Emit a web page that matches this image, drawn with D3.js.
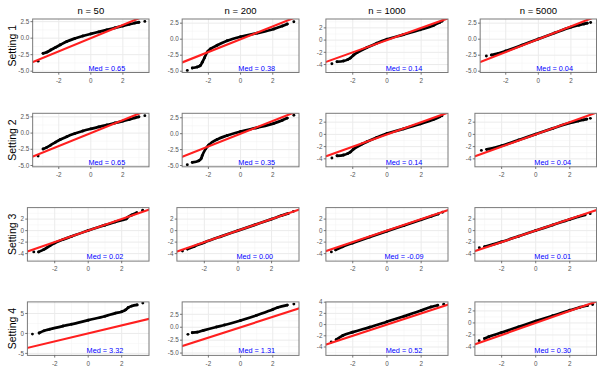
<!DOCTYPE html>
<html>
<head>
<meta charset="utf-8">
<script src="https://cdn.jsdelivr.net/npm/d3@7"></script>
<style>
  body { margin: 0; background: #fff; }
  svg { display: block; font-family: "Liberation Sans", Arial, sans-serif; }
</style>
</head>
<body>
<svg id="chart"></svg>
<script>
// column / row labels
const sizeLabels = ["n = 50", "n = 200", "n = 1000", "n = 5000"];
const settingLabels = ["Setting 1", "Setting 2", "Setting 3", "Setting 4"];

// median shown in each panel (row = setting, col = n)
const medians = [
  [0.65, 0.38, 0.14, 0.04],
  [0.65, 0.35, 0.14, 0.04],
  [0.02, 0.00, -0.09, 0.01],
  [3.32, 1.31, 0.52, 0.30]
];

// y axis ranges and ticks
const yRanges = [
  [[-5.2, 2.9], [-5.2, 3.15], [-5.3, 3.45], [-5.2, 3.15]],
  [[-5.2, 3.05], [-5.2, 3.2], [-5.3, 3.45], [-5.3, 3.45]],
  [[-5.3, 4.0], [-5.3, 4.0], [-5.3, 4.0], [-5.3, 4.0]],
  [[-5.5, 7.9], [-5.45, 4.9], [-5.5, 4.05], [-5.4, 3.5]]
];
const ticksA = [-5, -2.5, 0, 2.5];
const ticksB = [-4, -2, 0, 2];
const yTicks = [
  [ticksA, ticksA, ticksB, ticksA],
  [ticksA, ticksA, ticksB, ticksB],
  [ticksB, ticksB, ticksB, ticksB],
  [[-5, 0, 5], ticksA, [-4, -2, 0, 2, 4], ticksB]
];
const xTicks = [-2, 0, 2];
const xHalf = [3.63, 3.63, 3.57, 3.57];

// QQ points: theoretical quantile, sample quantile
// Setting 1
const s1n50 = [[-2.98,-2.3],[-2.75,-2.12],[-2.5,-1.8],[-2.2,-1.4],[-1.9,-1.0],[-1.5,-0.5],[-1.0,-0.05],[-0.5,0.33],[0,0.65],[0.5,0.95],[1.0,1.25],[1.5,1.55],[2.0,1.85],[2.4,2.1],[2.75,2.3],[3.0,2.4]];
const s1n50ends = [[-3.29,-3.48],[3.37,2.54]];
const s1n200 = [[-3.0,-4.5],[-2.69,-4.35],[-2.5,-4.1],[-2.38,-3.6],[-2.24,-2.9],[-2.07,-2.0],[-1.86,-1.5],[-1.45,-0.95],[-0.83,-0.25],[0,0.38],[1.04,0.95],[2.07,1.6],[2.6,2.05],[2.9,2.36]];
const s1n200ends = [[-3.31,-4.87],[3.31,2.72]];
const s1n1000 = [[-2.92,-3.54],[-2.54,-3.42],[-2.3,-3.2],[-2.15,-2.95],[-1.95,-2.45],[-1.75,-2.05],[-1.45,-1.6],[-1.17,-1.22],[-0.6,-0.5],[0,0.14],[0.97,0.9],[1.95,1.7],[2.72,2.4],[3.1,2.9]];
const s1n1000ends = [[-3.22,-3.87],[3.22,3.07]];
const s1n5000 = [[-2.88,-2.47],[-2.48,-2.26],[-2.0,-1.85],[-1.0,-0.92],[0,0.04],[1,0.98],[2,1.88],[2.5,2.2],[2.8,2.38],[3.0,2.5]];
const s1n5000ends = [[-3.19,-2.63],[3.21,2.61]];
// Setting 2
const s2n50 = [[-2.98,-2.45],[-2.75,-2.2],[-2.5,-1.85],[-2.2,-1.4],[-1.9,-1.0],[-1.5,-0.55],[-1.0,-0.08],[-0.5,0.32],[0,0.65],[0.5,0.95],[1.0,1.25],[1.5,1.55],[2.0,1.85],[2.4,2.1],[2.75,2.35],[3.0,2.5]];
const s2n50ends = [[-3.29,-3.53],[3.37,2.69]];
const s2n200 = [[-3.0,-4.5],[-2.59,-4.24],[-2.45,-3.9],[-2.38,-3.44],[-2.17,-2.38],[-1.97,-1.75],[-1.45,-0.9],[-0.83,-0.28],[0,0.35],[1.04,0.95],[2.07,1.62],[2.6,2.1],[2.9,2.45]];
const s2n200ends = [[-3.31,-4.87],[3.31,2.9]];
const s2n1000 = [[-2.92,-3.5],[-2.54,-3.38],[-2.3,-3.15],[-2.15,-2.9],[-1.95,-2.4],[-1.75,-2.02],[-1.45,-1.58],[-1.17,-1.2],[-0.6,-0.5],[0,0.14],[0.97,0.9],[1.95,1.72],[2.72,2.42],[3.1,2.9]];
const s2n1000ends = [[-3.22,-3.85],[3.22,3.05]];
const s2n5000 = [[-2.88,-2.45],[-2.48,-2.25],[-2.0,-1.85],[-1.0,-0.92],[0,0.04],[1,0.98],[2,1.88],[2.5,2.2],[2.8,2.38],[3.0,2.5]];
const s2n5000ends = [[-3.19,-2.62],[3.21,2.62]];
// Setting 3
const s3n50 = [[-2.96,-3.7],[-2.66,-3.3],[-2.27,-2.6],[-2.0,-2.15],[-1.5,-1.55],[-1.0,-1.02],[0,0.02],[1,0.95],[1.6,1.5],[2.1,1.9],[2.28,2.05],[2.35,2.3],[2.6,2.72],[2.9,3.1]];
const s3n50ends = [[-3.25,-3.7],[3.25,3.55]];
const s3n200 = [[-3.0,-3.2],[-2.6,-2.75],[-2,-2.05],[-1,-1.0],[0,0],[1,1.0],[2,2.0],[2.6,2.62],[3.0,3.0]];
const s3n200ends = [[-3.3,-3.55],[3.3,3.35]];
const s3n1000 = [[-3.0,-3.35],[-2.6,-2.8],[-2,-2.15],[-1,-1.1],[0,-0.09],[1,0.9],[2,1.9],[2.6,2.5],[3.0,2.9]];
const s3n1000ends = [[-3.25,-3.7],[3.25,3.2]];
const s3n5000 = [[-3.0,-2.8],[-2.5,-2.4],[-2,-1.95],[-1,-0.98],[0,0.01],[1,0.97],[2,1.95],[2.5,2.4],[2.9,2.74]];
const s3n5000ends = [[-3.31,-2.97],[3.2,2.95]];
// Setting 4
const s4n50 = [[-2.93,0.1],[-2.64,0.65],[-2.3,1.05],[-1.5,1.85],[-1,2.3],[0,3.32],[1,4.3],[1.63,5.1],[2.0,5.45],[2.23,5.9],[2.4,6.5],[2.6,6.85],[2.92,7.15]];
const s4n50ends = [[-3.33,-0.17],[3.26,7.6]];
const s4n200 = [[-3.0,-1.06],[-2.69,-0.95],[-2.3,-0.6],[-1.5,0.05],[-1,0.42],[0,1.31],[1,2.3],[2,3.45],[2.3,3.8],[2.9,4.28]];
const s4n200ends = [[-3.27,-1.38],[3.31,4.47]];
const s4n1000 = [[-2.97,-2.7],[-2.58,-1.95],[-2,-1.35],[-1,-0.45],[0,0.52],[1,1.5],[2,2.5],[2.57,3.15],[2.97,3.45]];
const s4n1000ends = [[-3.26,-3.1],[3.32,3.63]];
const s4n5000 = [[-3.0,-2.6],[-2.76,-2.3],[-2,-1.6],[-1,-0.65],[0,0.3],[1,1.2],[2,2.1],[2.6,2.6],[3.04,2.9]];
const s4n5000ends = [[-3.32,-2.95],[3.34,3.07]];

const curves = [
  [s1n50, s1n200, s1n1000, s1n5000],
  [s2n50, s2n200, s2n1000, s2n5000],
  [s3n50, s3n200, s3n1000, s3n5000],
  [s4n50, s4n200, s4n1000, s4n5000]
];
const ends = [
  [s1n50ends, s1n200ends, s1n1000ends, s1n5000ends],
  [s2n50ends, s2n200ends, s2n1000ends, s2n5000ends],
  [s3n50ends, s3n200ends, s3n1000ends, s3n5000ends],
  [s4n50ends, s4n200ends, s4n1000ends, s4n5000ends]
];

const width = 605, height = 376;
const svg = d3.select("#chart").attr("width", width).attr("height", height);

const cellLeft = [0.5, 150, 299, 448];
const panelRight = [149, 299, 448, 596.5];
const panelH = 53.5;
const rowTop = r => 19 + r * 94.3;

const tickFont = 6.3;
const fmtTick = (v, ticks) => ticks.some(t => !Number.isInteger(t)) ? v.toFixed(1) : String(v);

// measure tick label width so the panel starts after the labels
const measure = svg.append("text").style("font-size", tickFont + "px");
const textWidth = s => { measure.text(s); return measure.node().getComputedTextLength(); };

for (let r = 0; r < 4; r++) {
  for (let c = 0; c < 4; c++) {
    const ticks = yTicks[r][c];
    const labels = ticks.map(t => fmtTick(t, ticks));
    const maxW = d3.max(labels, textWidth);
    const left = cellLeft[c] + 21.3 + maxW;
    const right = panelRight[c];
    const top = rowTop(r), bottom = top + panelH;

    const x = d3.scaleLinear().domain([-xHalf[c], xHalf[c]]).range([left, right]);
    const y = d3.scaleLinear().domain(yRanges[r][c]).range([bottom, top]);

    const g = svg.append("g");
    const clipId = `clip-${r}-${c}`;
    g.append("clipPath").attr("id", clipId)
      .append("rect").attr("x", left).attr("y", top)
      .attr("width", right - left).attr("height", bottom - top);

    // minor grid
    const xMinor = [-3, -1, 1, 3];
    const step = ticks[1] - ticks[0];
    const yMinor = [];
    for (let v = ticks[0] - step / 2; v <= yRanges[r][c][1]; v += step) {
      if (v >= yRanges[r][c][0]) yMinor.push(v);
    }
    g.selectAll(".xminor").data(xMinor).enter().append("line")
      .attr("x1", d => x(d)).attr("x2", d => x(d)).attr("y1", top).attr("y2", bottom)
      .attr("stroke", "#f3f3f3").attr("stroke-width", 0.5);
    g.selectAll(".yminor").data(yMinor).enter().append("line")
      .attr("x1", left).attr("x2", right).attr("y1", d => y(d)).attr("y2", d => y(d))
      .attr("stroke", "#f3f3f3").attr("stroke-width", 0.5);
    // major grid
    g.selectAll(".xmajor").data(xTicks).enter().append("line")
      .attr("x1", d => x(d)).attr("x2", d => x(d)).attr("y1", top).attr("y2", bottom)
      .attr("stroke", "#ebebeb").attr("stroke-width", 1);
    g.selectAll(".ymajor").data(ticks).enter().append("line")
      .attr("x1", left).attr("x2", right).attr("y1", d => y(d)).attr("y2", d => y(d))
      .attr("stroke", "#ebebeb").attr("stroke-width", 1);

    // sample points
    const pts = curves[r][c];
    const line = d3.line().x(d => x(d[0])).y(d => y(d[1])).curve(d3.curveMonotoneX);
    g.append("path").datum(pts)
      .attr("d", line)
      .attr("fill", "none").attr("stroke", "#000")
      .attr("stroke-width", 2.7).attr("stroke-linejoin", "round").attr("stroke-linecap", "round")
      .attr("clip-path", `url(#${clipId})`);
    g.selectAll(".pt").data(pts.concat(ends[r][c])).enter().append("circle")
      .attr("cx", d => x(d[0])).attr("cy", d => y(d[1])).attr("r", 1.45)
      .attr("fill", "#000").attr("clip-path", `url(#${clipId})`);

    // reference line y = x
    const lo = -xHalf[c] - 1, hi = xHalf[c] + 1;
    g.append("line")
      .attr("x1", x(lo)).attr("y1", y(lo)).attr("x2", x(hi)).attr("y2", y(hi))
      .attr("stroke", "#ff1f1f").attr("stroke-width", 2.1)
      .attr("clip-path", `url(#${clipId})`);

    // border
    g.append("rect").attr("x", left).attr("y", top)
      .attr("width", right - left).attr("height", bottom - top)
      .attr("fill", "none").attr("stroke", "#7a7a7a").attr("stroke-width", 1);

    // y axis ticks
    g.selectAll(".ytick").data(ticks).enter().append("line")
      .attr("x1", left - 2.2).attr("x2", left).attr("y1", d => y(d)).attr("y2", d => y(d))
      .attr("stroke", "#555").attr("stroke-width", 0.8);
    g.selectAll(".ylab").data(ticks).enter().append("text")
      .attr("x", left - 3.5).attr("y", d => y(d)).attr("dy", "0.35em")
      .attr("text-anchor", "end").style("font-size", tickFont + "px").style("fill", "#555")
      .text(d => fmtTick(d, ticks));

    // x axis ticks
    g.selectAll(".xtick").data(xTicks).enter().append("line")
      .attr("x1", d => x(d)).attr("x2", d => x(d)).attr("y1", bottom).attr("y2", bottom + 2.2)
      .attr("stroke", "#555").attr("stroke-width", 0.8);
    g.selectAll(".xlab").data(xTicks).enter().append("text")
      .attr("x", d => x(d)).attr("y", bottom + 10.3)
      .attr("text-anchor", "middle").style("font-size", tickFont + "px").style("fill", "#555")
      .text(d => String(d));

    // median label
    g.append("text")
      .attr("x", x(1)).attr("y", bottom - 2)
      .attr("text-anchor", "middle").style("font-size", "7.3px").style("fill", "#0000ff")
      .text("Med = " + medians[r][c].toFixed(2));

    // column title
    if (r === 0) {
      svg.append("text")
        .attr("x", (left + right) / 2).attr("y", 14)
        .attr("text-anchor", "middle").style("font-size", "9.5px").style("fill", "#000")
        .text(sizeLabels[c]);
    }
    // row label
    if (c === 0) {
      svg.append("text")
        .attr("transform", `translate(15.5,${(top + bottom) / 2}) rotate(-90)`)
        .attr("text-anchor", "middle").style("font-size", "10.5px").style("fill", "#000")
        .text(settingLabels[r]);
    }
  }
}
measure.remove();
</script>
</body>
</html>
